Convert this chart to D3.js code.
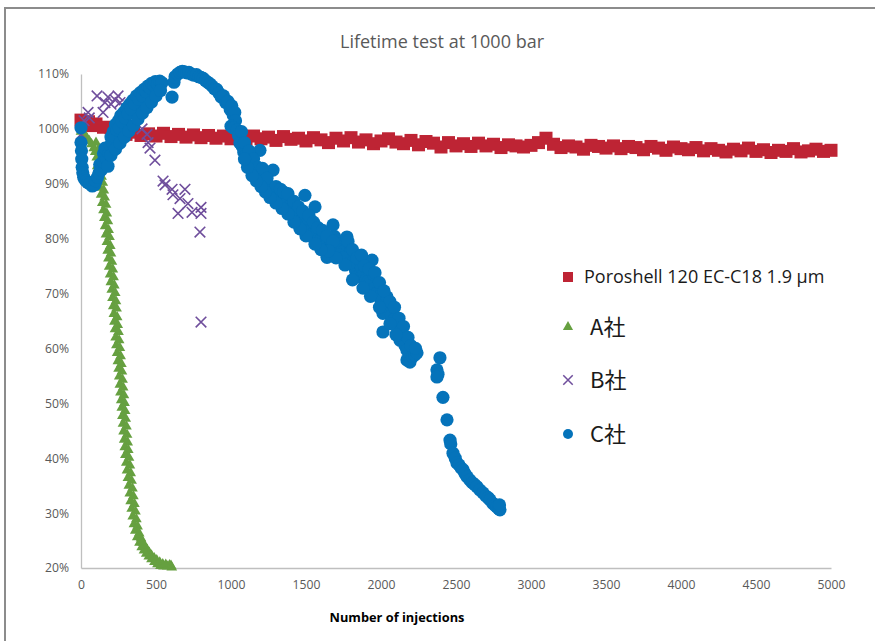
<!DOCTYPE html>
<html><head><meta charset="utf-8">
<script src="https://cdn.jsdelivr.net/npm/d3@7/dist/d3.min.js"></script>
<style>body{margin:0;background:#fff}svg{display:block}</style>
</head><body>
<svg id="c" width="875" height="641"></svg>
<script>
const chartTitle = "Lifetime test at 1000 bar";
const xTitle = "Number of injections";
const xTicks = [0,500,1000,1500,2000,2500,3000,3500,4000,4500,5000];
const yTicks = [20,30,40,50,60,70,80,90,100,110];
const seriesNames = ["Poroshell 120 EC-C18 1.9 µm","A社","B社","C社"];

// [injections, %]
const poroshell = [[0,101.6],[25,101.0],[50,101.3],[75,100.6],[100,100.9],[150,100.3],[200,100.2],[250,99.3],[300,99.0],[350,99.4],[400,98.8],[450,99.1],[500,98.7],
[550,99.2],[600,98.6],[650,99.0],[700,98.5],[750,98.9],[800,98.4],[850,98.8],[900,98.3],[950,98.7],[1000,98.2],
[1050,98.6],[1100,98.1],[1150,98.7],[1200,98.2],[1250,98.5],[1300,97.9],[1350,98.6],[1400,98.1],[1450,98.3],[1500,97.8],
[1550,98.4],[1600,98.0],[1650,97.5],[1700,98.3],[1750,97.8],[1800,98.4],[1850,97.6],[1900,98.0],[1950,97.3],[2000,97.8],
[2050,98.2],[2100,97.6],[2150,97.3],[2200,97.9],[2250,97.1],[2300,97.7],[2350,97.4],[2400,96.7],[2450,97.5],[2500,96.9],
[2550,97.3],[2600,96.8],[2650,97.4],[2700,96.9],[2750,97.2],[2800,96.6],[2850,97.1],[2900,96.9],[2950,96.7],[3000,97.0],
[3050,97.5],[3100,98.3],[3150,97.2],[3200,96.6],[3250,96.9],[3300,96.7],[3350,96.3],[3400,97.0],[3450,96.8],[3500,96.5],
[3550,96.9],[3600,96.4],[3650,96.8],[3700,96.6],[3750,96.2],[3800,96.8],[3850,96.5],[3900,96.1],[3950,96.7],[4000,96.4],
[4050,96.2],[4100,96.6],[4150,96.0],[4200,96.4],[4250,96.1],[4300,95.8],[4350,96.3],[4400,96.0],[4450,96.5],[4500,95.9],
[4550,96.2],[4600,95.7],[4650,96.1],[4700,95.9],[4750,96.4],[4800,95.8],[4850,96.0],[4900,96.3],[4950,95.9],[5000,96.1]];

const companyA = [[0,99.5],[8,98.2],[25,99],[40,98.2],[55,97.8],[70,97.2],[85,96.5],[100,97.5],[95,95.8],[115,96.2],[105,94.8],[125,94],[108,93.2],[130,92.8],[114,92],[137,91.3],[120,90.5],[145,90.2],[127,89.3],[152,88.8],[134,88],[158,87.5],[142,86.5],[167,86.2],[150,85.2],[172,84.6],[156,83.8],[179,83.2],[161,82.3],[184,81.6],[167,80.8],[190,80.3],[173,79.4],[195,78.7],[178,77.8],[200,77.3],[183,76.4],[206,75.8],[188,74.9],[212,74.4],[194,73.5],[217,73],[199,72.1],[222,71.5],[205,70.7],[228,70.1],[210,69.2],[233,68.6],[215,67.7],[237,67.3],[219,66.3],[241,65.7],[223,64.9],[245,64.3],[227,63.5],[250,63],[231,62],[254,61.5],[236,60.6],[259,60.1],[241,59.2],[264,58.6],[246,57.7],[269,57.2],[251,56.3],[273,55.8],[255,54.9],[277,54.3],[259,53.4],[281,52.9],[263,52],[286,51.5],[268,50.6],[290,50.1],[272,49.2],[294,48.6],[276,47.7],[298,47.2],[280,46.3],[303,45.8],[284,44.9],[307,44.3],[288,43.4],[311,42.9],[292,42],[315,41.5],[296,40.6],[320,40.1],[302,39.2],[326,38.7],[307,37.8],[331,37.3],[313,36.4],[337,35.9],[319,35],[343,34.5],[325,33.6],[349,33.1],[331,32.2],[356,31.7],[338,30.8],[363,30.3],[345,29.4],[369,28.9],[353,28],[377,27.6],[362,26.8],[388,26.3],[375,25.6],[400,25.4],[390,24.6],[412,24.6],[405,23.8],[425,24],[420,23.2],[440,23.4],[435,22.6],[455,22.8],[452,22.1],[470,22.3],[470,21.6],[488,21.8],[490,21.1],[505,21.4],[510,20.7],[525,21],[530,20.4],[545,20.7],[550,20.3],[565,20.6],[575,20.3],[590,20.5],[600,20.4],[605,20.1]];

const companyB = [[0,99],[20,101.5],[47,103],[55,102],[107,106],[147,103],[160,104.8],[180,105.8],[200,104.5],[227,105.3],[247,106],[260,104.8],[407,100],[440,99],[447,97.5],[460,96.5],[493,94.3],[547,90.5],[560,89.8],[607,89],[613,88],[660,87.3],[693,89],[713,86.4],[647,84.6],[740,84.8],[800,85.7],[800,84.6],[793,81.2],[800,64.8]];

const companyC = [[0,100.2],[0,97.5],[3,96],[5,94.5],[8,93],[12,92],[18,91.2],[25,90.8],[35,90.5],[45,90.2],[60,90],[75,89.6],[90,89.8],[100,90.5],[110,91.2],[120,92],[125,93.5],[135,92.5],[145,94],[150,95.5],[160,96.5],[170,94.5],[180,93.2],[185,95.5],[195,97],[200,98.5],[210,97.5],[215,99.5],[225,98.6],[230,100.8],[240,99.8],[250,101.5],[255,100.2],[265,102.4],[275,101.3],[285,103],[295,102],[305,103.8],[315,102.8],[325,104.5],[335,103.6],[345,105.2],[360,104.5],[370,106],[385,105.4],[395,106.6],[410,106],[420,107.2],[435,106.8],[445,107.8],[460,107.5],[470,108.3],[485,108],[495,108.6],[510,108.2],[525,108.7],[540,108.4],
[200,95.2],[230,96.3],[260,97.4],[290,98.5],[320,99.6],[350,100.6],[380,101.8],[410,102.9],[440,103.9],[470,104.9],[500,106],[530,107],
[607,105.8],[620,108.5],[627,109.5],[645,110],[660,110.3],[675,110.5],[690,110.4],[705,110.2],[720,110.3],[735,110],[750,109.8],[770,109.9],[785,109.5],[800,109.4],[815,109.2],[830,108.8],[845,108.5],[860,108.2],[875,107.8],[890,107.3],[905,107.2],[920,106.5],[935,105.8],[950,106],[965,104.8],[980,105],[995,103.5],[1005,104.2],[1015,102.5],[1025,103],[1030,101.5],[1000,100.5],[1015,100.2],[1040,99.8],[1050,98.8],[1060,97.4],[1075,96.8],[1085,95.8],[1100,95.2],[1110,94.5],[1120,93.8],[1135,93.2],[1145,92.5],[1160,91.8],[1175,91.3],[1193,96.1],[1190,90.8],[1205,91.5],[1215,90.2],[1230,89.6],[1245,89.2],[1260,89.4],[1280,92.5],[1270,88.5],[1290,88],[1310,87.6],[1327,87.3],[1345,86.8],[1360,87.2],[1373,86.5],[1385,85.8],[1393,85.2],[1410,85.5],[1425,84.5],[1440,83.9],[1450,83],[1460,82.1],[1475,82.8],[1493,87.9],[1505,84],[1515,82.5],[1527,81.5],[1540,80.8],[1547,80.3],[1560,85.8],[1570,81.2],[1585,80],[1600,79.8],[1615,79],[1630,78.6],[1640,77.5],[1640,76.6],[1655,78],[1665,79.8],[1680,82.5],[1690,80.4],[1705,79.6],[1715,79],[1727,78.5],[1740,78],[1755,77.8],[1773,80.3],[1780,79.5],[1793,77.4],[1805,76.8],[1820,75.5],[1830,74.2],[1840,73],[1850,75.6],[1860,76.1],[1870,74.8],[1885,73.6],[1900,72.5],[1915,72.2],[1927,71.9],[1940,76.1],[1950,73.5],[1960,71],[1973,70.1],[1985,69.5],[2000,68.8],[2013,66.4],[2025,67.5],[2040,69.4],[2055,67],[2013,63],[2070,66],[2085,65.2],[2095,64.5],[2107,64.6],[2115,63],[2127,61.5],[2140,62.5],[2147,62.1],[2160,60.5],[2173,59.7],[2173,57.9],[2193,57.5],[2210,58.5],[2225,58.8],[2240,59.2],
[1070,99.5],[1090,97.5],[1120,96],[1150,94.5],[1180,93],[1210,92.8],[1240,91],[1300,89.5],[1330,89],[1350,88.5],[1380,88.2],[1420,86.8],[1450,85.8],[1480,85],[1520,84.2],[1550,83],[1580,82],[1610,81.5],[1640,80.5],[1680,79.5],[1720,77],[1750,76.5],[1790,75.5],[1810,78],[1840,76.5],[1870,77],[1890,75],[1920,74.5],[1960,73.8],[1990,72],[2020,70.5],[2060,68.5],[2090,67.5],[2120,65.5],[2150,64],[2180,62],[2200,60.5],[2230,60],[2100,62.5],[2060,64.5],[1990,67.5],[1930,69.5],[1880,71],[1810,72.5],[1760,75.2],[1700,76.5],[1650,77.8],[1600,78],[1560,79],[1500,80.5],[1460,81.8],[1420,83],[1380,84.5],[1340,85.5],[1300,86.5],[1260,87.5],[1230,88.5],[1200,89.5],[1170,90.5],[1140,91.5],[1110,93],[1090,94.5],
[2393,58.3],[2373,56.1],[2380,55.3],[2373,54.8],[2413,51.1],[2440,47],[2460,43.3],[2465,42.6],[2480,40.9],[2495,40],[2507,39.1],[2520,38.8],[2535,38.2],[2547,37.9],[2560,37.2],[2575,36.6],[2593,36],[2610,35.5],[2625,35.2],[2640,34.8],[2660,34.2],[2680,33.7],[2700,33.1],[2715,32.8],[2727,32.4],[2745,31.8],[2760,31.4],[2773,31.1],[2785,30.8],[2793,30.6],[2790,31.5]];

const colors = {red:"#BE2434", green:"#66A040", purple:"#6F4E9C", blue:"#0573BA"};

const svg = d3.select("#c");
const font = "'Open Sans', sans-serif";

// outer frame
svg.append("rect").attr("x",5).attr("y",8).attr("width",900).attr("height",700)
  .attr("fill","none").attr("stroke","#8c8c8c").attr("stroke-width",2);

const x = d3.scaleLinear().domain([0,5000]).range([81,831]);
const y = d3.scaleLinear().domain([20,110]).range([568,74]);

svg.append("text").attr("x",442).attr("y",48).attr("text-anchor","middle")
  .attr("font-family",font).attr("font-size",18).attr("fill","#595959").text(chartTitle);

const gx = svg.append("g").attr("transform","translate(0,568)")
  .call(d3.axisBottom(x).tickValues(xTicks).tickSize(0).tickPadding(12).tickFormat(d3.format("d")));
const gy = svg.append("g").attr("transform","translate(81,0)")
  .call(d3.axisLeft(y).tickValues(yTicks).tickSize(0).tickPadding(12).tickFormat(d=>d+"%"));
[gx,gy].forEach(g=>{
  g.select(".domain").attr("stroke","#bfbfbf").attr("stroke-width",1.3);
  g.selectAll("text").attr("font-family",font).attr("font-size",12.2).attr("fill","#595959");
});

svg.append("text").attr("x",397).attr("y",622).attr("text-anchor","middle")
  .attr("font-family",font).attr("font-size",12.8).attr("font-weight","bold").attr("fill","#000").text(xTitle);

const plot = svg.append("g");
// Poroshell squares
plot.append("g").selectAll("rect").data(poroshell).join("rect")
  .attr("x",d=>x(d[0])-6.5).attr("y",d=>y(d[1])-6.5).attr("width",13).attr("height",13)
  .attr("fill",colors.red);
// A triangles
const tri = d3.symbol().type(d3.symbolTriangle).size(50);
plot.append("g").selectAll("path").data(companyA).join("path")
  .attr("d",tri).attr("transform",d=>`translate(${x(d[0])},${y(d[1])})`).attr("fill",colors.green);
// B crosses
const cross = d3.symbol().type(d3.symbolX).size(75);
plot.append("g").selectAll("path").data(companyB).join("path")
  .attr("d",cross).attr("transform",d=>`translate(${x(d[0])},${y(d[1])})`)
  .attr("fill","none").attr("stroke",colors.purple).attr("stroke-width",1.6);
// C circles
plot.append("g").selectAll("circle").data(companyC).join("circle")
  .attr("cx",d=>x(d[0])).attr("cy",d=>y(d[1])).attr("r",6.6).attr("fill",colors.blue);

// legend
const leg = svg.append("g");
const legY = [277,327,380,434];
leg.append("rect").attr("x",563).attr("y",legY[0]-5).attr("width",10).attr("height",10).attr("fill",colors.red);
leg.append("path").attr("d",d3.symbol().type(d3.symbolTriangle).size(45)).attr("transform",`translate(568,${legY[1]})`).attr("fill",colors.green);
leg.append("path").attr("d",d3.symbol().type(d3.symbolX).size(60)).attr("transform",`translate(568,${legY[2]})`).attr("fill","none").attr("stroke",colors.purple).attr("stroke-width",1.5);
leg.append("circle").attr("cx",568).attr("cy",legY[3]).attr("r",5).attr("fill",colors.blue);
leg.append("text").attr("x",584).attr("y",legY[0]+6).attr("font-family",font).attr("font-size",18).attr("fill","#1a1a1a").text(seriesNames[0]);
[1,2,3].forEach(i=>{
  leg.append("text").attr("x",590).attr("y",legY[i]+8).attr("font-family","'Noto Sans CJK JP', 'Liberation Sans', sans-serif")
    .attr("font-size",22).attr("fill","#1a1a1a").text(seriesNames[i]);
});
</script>
</body></html>
